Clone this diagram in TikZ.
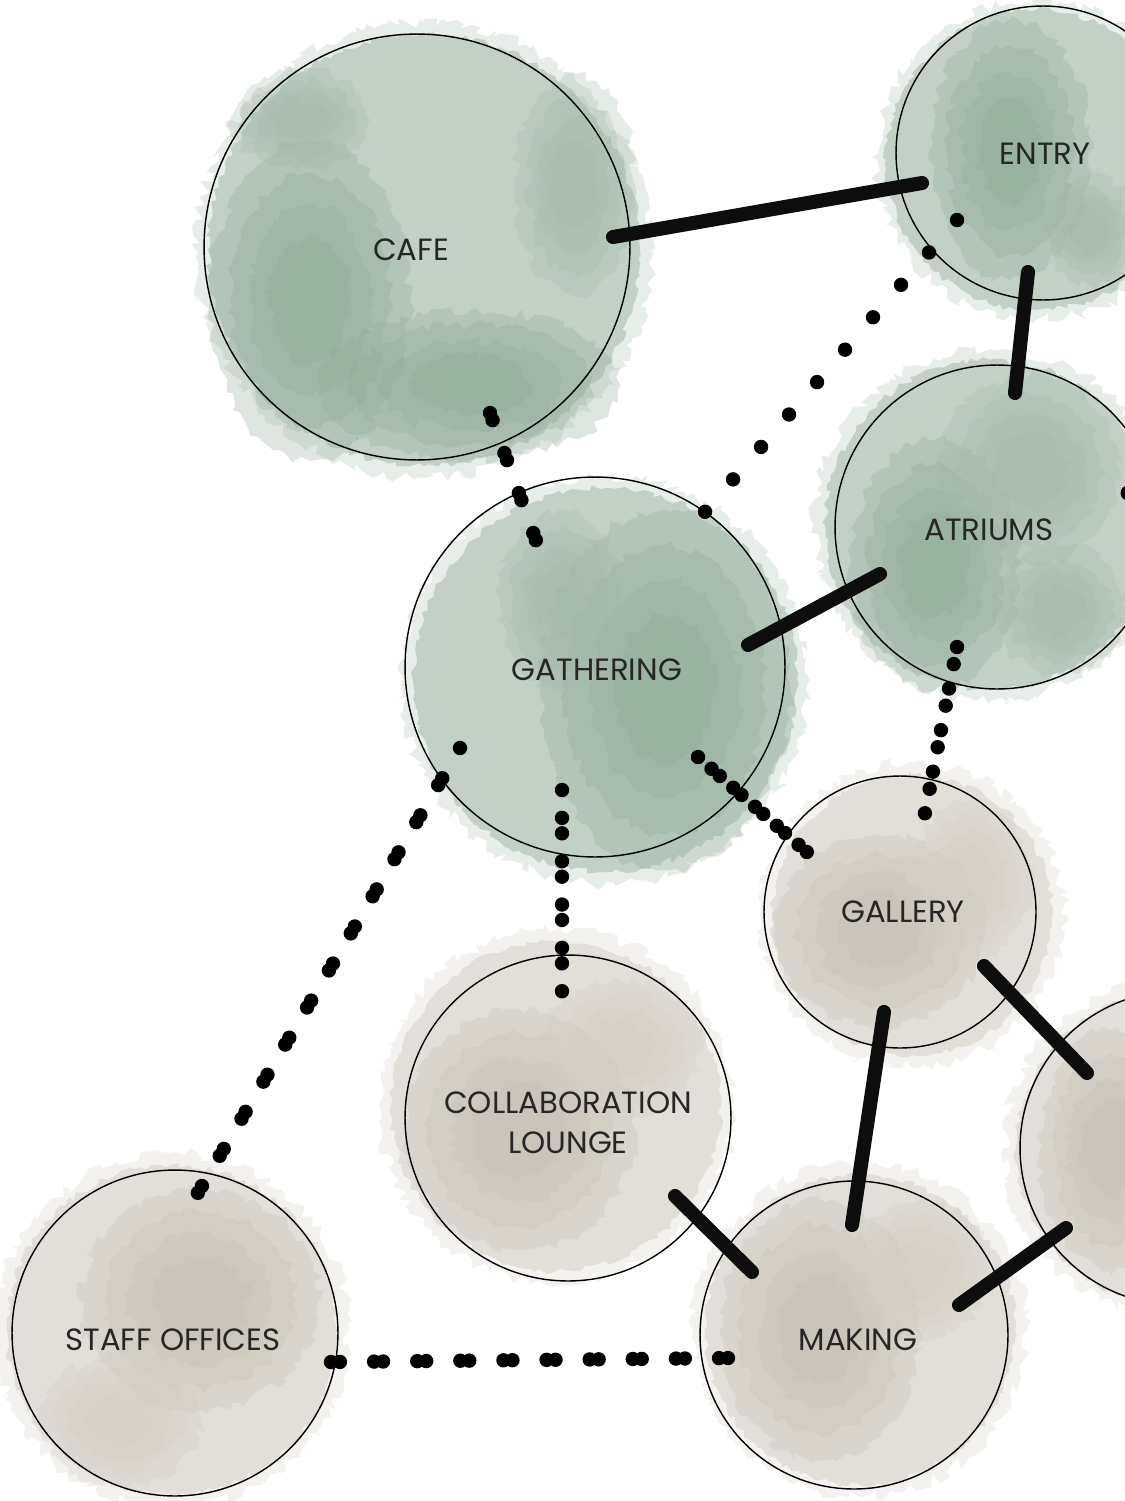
\documentclass[tikz,border=0pt]{standalone}
\usepackage{fontspec}
\setmainfont{Poppins}
\usetikzlibrary{decorations.pathmorphing}
\definecolor{gLight}{HTML}{BCCCC0}
\definecolor{gMid}{HTML}{A3B8A8}
\definecolor{gDark}{HTML}{8EA894}
\definecolor{bLight}{HTML}{E0DCD4}
\definecolor{bMid}{HTML}{D3CDC3}
\definecolor{bDark}{HTML}{C4BCB0}
\tikzset{
  haze/.style={decorate, decoration={random steps, segment length=3pt, amplitude=3.5pt}, opacity=.35},
  wash/.style={decorate, decoration={random steps, segment length=3pt, amplitude=1.8pt}, opacity=.85},
  patch/.style={decorate, decoration={random steps, segment length=4pt, amplitude=3pt}},
  pics/softpatch/.style args={#1/#2/#3}{code={
    \foreach \s in {1,0.8,0.6,0.4} {
      \fill[#1, patch, opacity=.28] (0,0) ellipse ({#2*\s} and {#3*\s});
    }
  }},
  bubble/.style={circle, draw=black, line width=0.8pt, inner sep=0pt, outer sep=0pt},
  lbl/.style={font=\fontsize{17.5}{21}\selectfont, text=black!85, inner sep=0pt, align=center},
  solidlink/.style={line width=8pt, line cap=round, draw=black!95},
  dotlink/.style={line width=8.2pt, line cap=round, draw=black},
}
\begin{document}
\begin{tikzpicture}[x=0.02cm, y=-0.02cm]
\pgfmathsetseed{7}
\useasboundingbox (0,0) rectangle (1125,1501);
\fill[white] (0,0) rectangle (1125,1501);

% ---------- watercolour washes (green) ----------
% CAFE
\fill[gLight, haze] (424,250) circle (228);
\fill[gLight, wash] (424,250) circle (216);
\pic at (310,300) {softpatch=gDark/100/160};
\pic at (470,385) {softpatch=gDark/150/75};
\pic at (575,185) {softpatch=gMid/60/110};
\pic at (300,120) {softpatch=gMid/70/50};
% ENTRY
\fill[gLight, haze] (1036,160) circle (160);
\fill[gLight, wash] (1036,160) circle (150);
\pic at (1010,150) {softpatch=gDark/80/130};
\pic at (1090,230) {softpatch=gMid/45/55};
% ATRIUMS
\fill[gLight, haze] (990,525) circle (176);
\fill[gLight, wash] (990,525) circle (165);
\pic at (935,565) {softpatch=gDark/85/125};
\pic at (1030,470) {softpatch=gMid/90/95};
\pic at (1060,610) {softpatch=gMid/65/65};
% GATHERING
\fill[gLight, haze] (605,680) circle (204);
\fill[gLight, wash] (605,680) circle (192);
\pic at (665,690) {softpatch=gDark/125/180};
\pic at (560,600) {softpatch=gMid/60/90};

% ---------- watercolour washes (beige) ----------
% GALLERY
\fill[bLight, haze] (912,915) circle (152);
\fill[bLight, wash] (912,915) circle (140);
\pic at (880,930) {softpatch=bDark/105/95};
\pic at (970,880) {softpatch=bMid/60/80};
% COLLABORATION LOUNGE
\fill[bLight, haze] (556,1106) circle (177);
\fill[bLight, wash] (556,1106) circle (165);
\pic at (520,1130) {softpatch=bDark/115/120};
\pic at (620,1050) {softpatch=bMid/80/70};
% MAKING
\fill[bLight, haze] (860,1330) circle (167);
\fill[bLight, wash] (860,1330) circle (155);
\pic at (820,1330) {softpatch=bDark/100/130};
\pic at (920,1270) {softpatch=bMid/70/70};
% STAFF OFFICES
\fill[bLight, haze] (172,1330) circle (177);
\fill[bLight, wash] (172,1330) circle (165);
\pic at (200,1300) {softpatch=bDark/120/110};
\pic at (120,1420) {softpatch=bMid/80/65};
% right partial circle
\fill[bLight, haze] (1172,1148) circle (168);
\fill[bLight, wash] (1172,1148) circle (156);
\pic at (1110,1150) {softpatch=bDark/70/120};

% ---------- circles ----------
\node[bubble, minimum size=8.52cm] (cafe) at (417,247) {};
\node[bubble, minimum size=5.88cm] (entry) at (1043,153) {};
\node[bubble, minimum size=6.48cm] (atriums) at (997,527) {};
\node[bubble, minimum size=7.60cm] (gathering) at (595,667) {};
\node[bubble, minimum size=5.44cm] (gallery) at (900,912) {};
\node[bubble, minimum size=6.52cm] (collab) at (568,1118) {};
\node[bubble, minimum size=6.16cm] (making) at (854,1335) {};
\node[bubble, minimum size=6.52cm] (staff) at (175,1333) {};
\node[bubble, minimum size=6.28cm] (right) at (1177,1148) {};

% ---------- connector end points ----------
\coordinate (cafeE) at (613,237);   \coordinate (entryC) at (922,183);
\coordinate (entryA) at (1028,272); \coordinate (atrE) at (1015,393);
\coordinate (gathA) at (748,645);   \coordinate (atrG) at (880,574);
\coordinate (galM) at (884,1012);   \coordinate (makG) at (852,1225);
\coordinate (galR) at (984,966);    \coordinate (rightG) at (1087,1073);
\coordinate (colM) at (675,1196);   \coordinate (makC) at (752,1272);
\coordinate (makR) at (959,1305);   \coordinate (rightM) at (1066,1228);

\coordinate (cafeG) at (490,413);   \coordinate (gathC) at (536.5,542);
\coordinate (entryG) at (957,220);  \coordinate (gathE) at (704,513);
\coordinate (atrGal) at (957,647);  \coordinate (galA) at (924,818);
\coordinate (gathGal) at (698,757); \coordinate (galG) at (808,853);
\coordinate (gathCol) at (562,790); \coordinate (colG) at (562,993);
\coordinate (gathS) at (460,748);   \coordinate (staffG) at (196,1196);
\coordinate (staffM) at (331,1362); \coordinate (makS) at (731,1358);
\coordinate (atrOut) at (1128,493);

% ---------- solid connectors ----------
\draw[solidlink] (cafeE) -- (entryC);
\draw[solidlink] (entryA) -- (atrE);
\draw[solidlink] (gathA) -- (atrG);
\draw[solidlink] (galM) -- (makG);
\draw[solidlink] (galR) -- (rightG);
\draw[solidlink] (colM) -- (makC);
\draw[solidlink] (makR) -- (rightM);

% ---------- dotted connectors ----------
\draw[dotlink, dash pattern=on 0pt off 4.31pt on 0pt off 19.9pt] (cafeG) -- (gathC);
\draw[dotlink, dash pattern=on 0pt off 24.38pt] (entryG) -- (gathE);
\draw[dotlink, dash pattern=on 0pt off 9.92pt on 0pt off 14.17pt] (atrGal) -- (galA);
\draw[dotlink, dash pattern=on 0pt off 10.2pt on 0pt off 6.24pt] (gathGal) -- (galG);
\draw[dotlink, dash pattern=on 0pt off 15.87pt on 0pt off 8.79pt] (gathCol) -- (colG);
\draw[dotlink, dash pattern=on 0pt off 19.95pt on 0pt off 4.54pt] (gathS) -- (staffG);
\draw[dotlink, dash pattern=on 0pt off 5.1pt on 0pt off 19.44pt] (staffM) -- (makS);
\fill (atrOut) circle (7.5);

% ---------- labels ----------
\node[lbl] (cafeL) at (411,250) {CAFE};
\node[lbl] (entryL) at (1045,154) {ENTRY};
\node[lbl] (atriumsL) at (989,530) {ATRIUMS};
\node[lbl] (gatheringL) at (597,670) {GATHERING};
\node[lbl] (galleryL) at (903,912) {GALLERY};
\node[lbl] (collabL) at (568,1123) {COLLABORATION\\[2pt]LOUNGE};
\node[lbl] (makingL) at (858,1340) {MAKING};
\node[lbl] (staffL) at (173,1340) {STAFF OFFICES};
\end{tikzpicture}
\end{document}
